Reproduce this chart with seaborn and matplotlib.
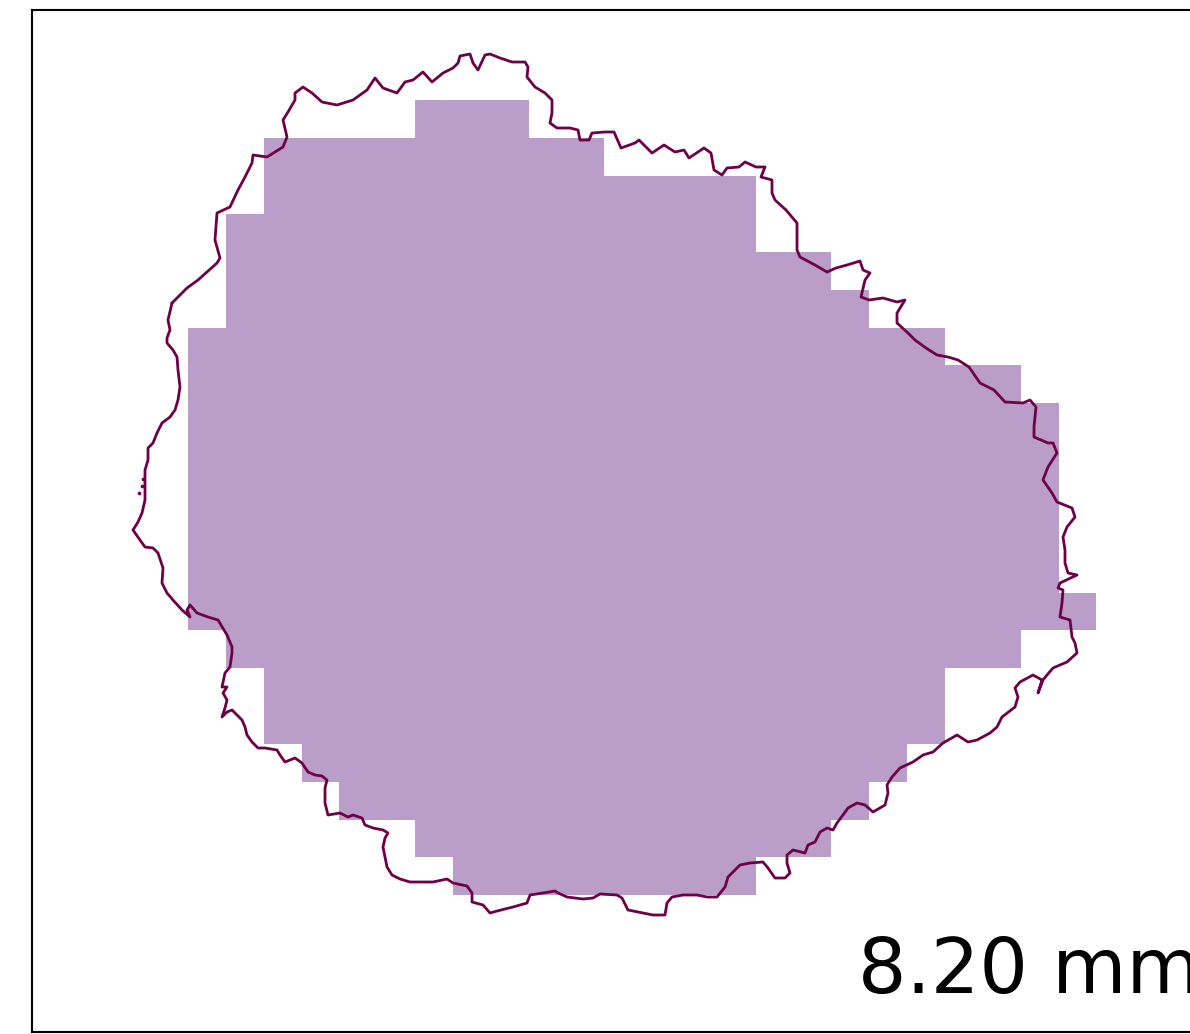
import numpy as np
import pandas as pd
import matplotlib
matplotlib.use('Agg')
import matplotlib.pyplot as plt
from matplotlib.colors import ListedColormap
import seaborn as sns

# raster grid: first / last filled column for each row (top row first)
row_first = [6, 2, 2, 1, 1, 1, 0, 0, 0, 0, 0, 0, 0, 0, 1, 2, 2, 3, 4, 6, 7]
row_last = [8, 10, 14, 14, 16, 17, 19, 21, 22, 22, 22, 22, 22, 23, 21, 19, 19, 18, 17, 16, 14]
grid_x0 = 188.0
grid_y0 = 104.7
cell = 37.85

# coastline (map units, y = northing)
coast_x = [172, 187, 198, 217, 220, 215, 217, 230, 238, 245, 252, 253, 267, 283, 287, 283, 288, 295, 295, 303,
           312, 322, 337, 353, 367, 375, 383, 397, 405, 413, 423, 432, 443, 453, 458, 460, 470, 473, 478, 485,
           490, 500, 512, 525, 528, 527, 535, 545, 552, 552, 550, 557, 570, 578, 580, 589, 592, 605, 614, 621,
           635, 639, 652, 664, 675, 684, 689, 704, 711, 714, 722, 727, 739, 745, 756, 765, 761, 772, 772, 775,
           786, 797, 797, 800, 815, 827, 836, 847, 860, 863, 870, 865, 861, 869, 883, 897, 905, 897, 897, 908,
           915, 926, 937, 948, 958, 969, 980, 994, 1005, 1023, 1030, 1036, 1034, 1034, 1048, 1053, 1057, 1048, 1043, 1052,
           1057, 1072, 1075, 1067, 1063, 1065, 1065, 1068, 1077, 1060, 1058, 1063, 1062, 1060, 1070, 1072, 1075, 1077, 1067, 1053,
           1047, 1043, 1038, 1042, 1033, 1020, 1015, 1018, 1015, 1002, 997, 990, 977, 968, 957, 943, 933, 923, 913, 900,
           892, 887, 888, 885, 873, 865, 857, 848, 843, 837, 833, 827, 820, 815, 808, 805, 793, 787, 787, 790,
           785, 775, 768, 763, 750, 740, 735, 728, 725, 717, 707, 697, 683, 672, 667, 665, 653, 643, 628, 622,
           617, 600, 593, 583, 567, 558, 555, 543, 530, 527, 513, 497, 490, 483, 472, 472, 467, 453, 447, 433,
           410, 400, 392, 387, 385, 383, 385, 388, 383, 373, 365, 362, 353, 348, 340, 328, 325, 325, 327, 322,
           315, 308, 302, 295, 285, 280, 277, 265, 258, 252, 247, 245, 242, 237, 232, 227, 222, 225, 227, 223,
           227, 222, 225, 230, 232, 232, 227, 218, 208, 197, 190, 187, 190, 182, 173, 167, 162, 163, 158, 153,
           145, 140, 133, 138, 142, 145, 145, 148, 148, 153, 157, 162, 170, 175, 178, 180, 178, 177, 173, 167,
           167, 170, 168, 172]
coast_y = [697, 712, 720, 737, 742, 760, 787, 793, 810, 823, 837, 845, 843, 853, 863, 880, 888, 900, 907, 913,
           907, 898, 895, 900, 910, 922, 912, 907, 918, 920, 928, 918, 927, 932, 937, 944, 946, 937, 930, 945,
           946, 942, 938, 938, 933, 923, 913, 907, 900, 887, 877, 872, 872, 870, 860, 860, 867, 868, 868, 852,
           857, 860, 847, 855, 848, 850, 842, 852, 847, 830, 825, 832, 833, 838, 833, 833, 823, 820, 807, 800,
           790, 777, 750, 743, 735, 728, 732, 735, 739, 730, 727, 720, 703, 700, 702, 698, 700, 687, 677, 667,
           660, 652, 645, 643, 640, 633, 617, 610, 598, 597, 600, 593, 573, 563, 557, 557, 547, 533, 520, 507,
           498, 492, 483, 473, 463, 450, 437, 427, 425, 417, 412, 410, 397, 383, 380, 363, 357, 347, 338, 332,
           325, 320, 307, 320, 325, 318, 312, 303, 293, 283, 273, 267, 260, 258, 265, 257, 248, 245, 238, 232,
           223, 215, 207, 195, 188, 195, 197, 192, 185, 177, 170, 172, 168, 158, 155, 147, 150, 145, 137, 127,
           122, 122, 132, 138, 137, 135, 130, 123, 113, 103, 103, 105, 105, 103, 97, 85, 85, 87, 90, 102,
           105, 106, 102, 101, 103, 107, 109, 107, 105, 97, 93, 89, 87, 95, 98, 107, 114, 117, 121, 118,
           118, 121, 125, 133, 143, 153, 162, 167, 170, 172, 175, 182, 185, 183, 187, 185, 197, 212, 220, 224,
           225, 228, 237, 242, 238, 245, 250, 252, 252, 258, 265, 273, 280, 285, 290, 288, 283, 292, 300, 307,
           313, 313, 327, 333, 347, 353, 365, 380, 383, 387, 395, 390, 383, 390, 400, 407, 417, 432, 447, 452,
           453, 460, 470, 478, 487, 500, 530, 540, 552, 557, 567, 577, 583, 590, 600, 613, 630, 643, 650, 657,
           662, 670, 680, 697]
islet_x = [139, 142, 143]
islet_y = [507, 514, 521]

label = '8.20 mm'

# build raster mask (bottom row first for pcolormesh)
n_rows = len(row_first)
n_cols = max(row_last) + 1
mask = np.full((n_rows, n_cols), np.nan)
for i, (a, b) in enumerate(zip(row_first, row_last)):
    mask[i, a:b + 1] = 1.0
mask = mask[::-1]
x_edges = grid_x0 + cell * np.arange(n_cols + 1)
y_edges = grid_y0 + cell * np.arange(n_rows + 1)

coast = pd.DataFrame({'x': coast_x, 'y': coast_y})

sns.set_style('white')
fig = plt.figure(figsize=(11.9, 10.34), dpi=100)
ax = fig.add_axes([32 / 1190, 2 / 1034, 1168 / 1190, 1022 / 1034])

ax.pcolormesh(x_edges, y_edges, np.ma.masked_invalid(mask),
              cmap=ListedColormap(['#BA9DC9']), edgecolors='face', linewidth=0)
sns.lineplot(data=coast, x='x', y='y', sort=False, estimator=None,
             color='#6E0046', linewidth=2.0, ax=ax)
sns.scatterplot(x=islet_x, y=islet_y, color='#6E0046', s=7, linewidth=0, ax=ax)

ax.set_xlim(32, 1200)
ax.set_ylim(-32, 990)
ax.set_xticks([])
ax.set_yticks([])
ax.set_xlabel('')
ax.set_ylabel('')
for sp in ax.spines.values():
    sp.set_color('black')
    sp.set_linewidth(1.5)

# the reference clips this label at the right edge of the figure
ax.text(0.707, 0.038, label, transform=ax.transAxes, fontsize=55,
        ha='left', va='baseline', color='black', clip_on=False)

fig.savefig('out.png', dpi=100)
